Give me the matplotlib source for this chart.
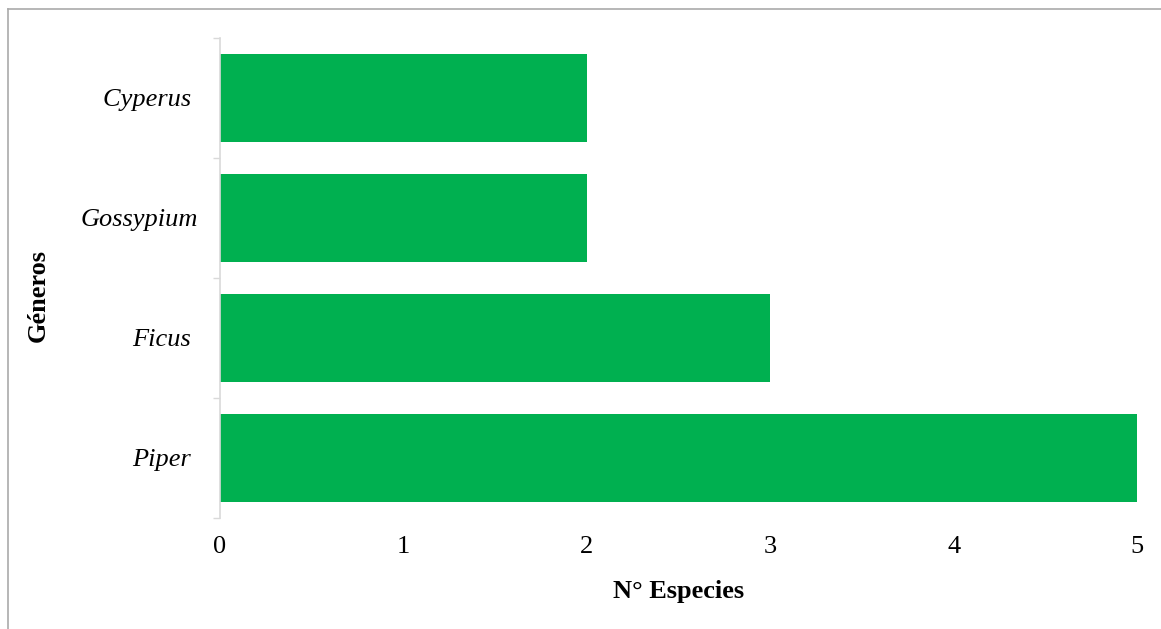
import matplotlib.pyplot as plt
from matplotlib.lines import Line2D

plt.rcParams['font.family'] = ['Liberation Serif', 'DejaVu Serif']

generos = ['Piper ', 'Ficus ', 'Gossypium', 'Cyperus ']
especies = [5, 3, 2, 2]
xticks = [0, 1, 2, 3, 4, 5]

W, H = 1161, 629
fig = plt.figure(figsize=(W / 100, H / 100), dpi=100)
ax = fig.add_axes([220 / W, 1 - 518 / H, (1137 - 220) / W, (518 - 38) / H])

pos = list(range(len(generos)))
ax.barh(pos, especies, height=0.73, color='#00B050')

ax.set_xlim(0, 5)
ax.set_ylim(-0.5, len(generos) - 0.5)
ax.set_xticks(xticks)
ax.set_yticks(pos)
ax.set_yticklabels(generos, fontstyle='italic')
ax.set_yticks([p - 0.5 for p in pos] + [len(generos) - 0.5], minor=True)

ax.tick_params(axis='x', length=0, labelsize=19, pad=13)
ax.tick_params(axis='y', which='major', length=0, labelsize=19, pad=16)
ax.tick_params(axis='y', which='minor', length=5, width=1, color='#d9d9d9', direction='out')

for s in ['top', 'right', 'bottom']:
    ax.spines[s].set_visible(False)
ax.spines['left'].set_color('#d9d9d9')
ax.spines['left'].set_linewidth(1.2)

fig.text(678.5 / W, 1 - 598 / H, 'N° Especies', ha='center', va='baseline',
         fontsize=19, fontweight='bold')
fig.text(38 / W, 1 - 295 / H, 'Géneros', ha='center', va='center',
         rotation=90, fontsize=19, fontweight='bold')

# outer frame (top and left edges only visible)
fig.add_artist(Line2D([8 / W, 1], [1 - 9 / H, 1 - 9 / H], transform=fig.transFigure,
                      color='#aaaaaa', linewidth=1.2))
fig.add_artist(Line2D([8 / W, 8 / W], [0, 1 - 9 / H], transform=fig.transFigure,
                      color='#aaaaaa', linewidth=1.2))

fig.savefig('out.png', dpi=100)
